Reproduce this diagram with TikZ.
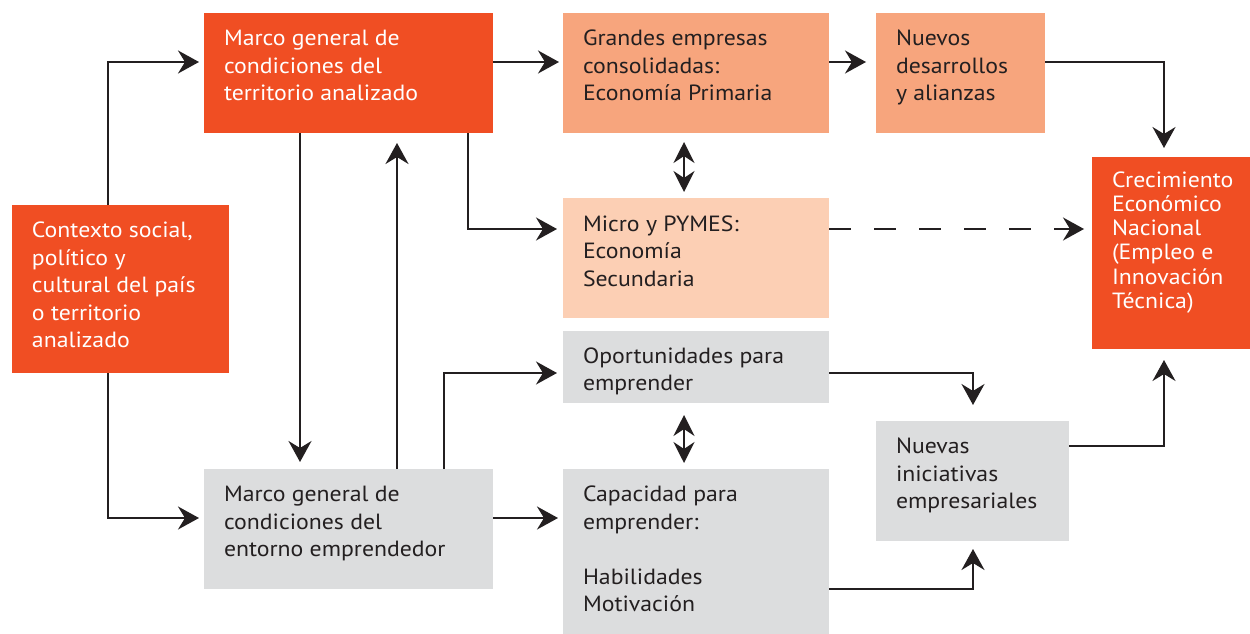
\documentclass[tikz,border=0pt]{standalone}
\usepackage{fontspec}
\setmainfont{PT Sans}[FakeStretch=1.08]
\usetikzlibrary{arrows.meta}
\definecolor{ored}{HTML}{F04E23}
\definecolor{salmon}{HTML}{F7A57D}
\definecolor{peach}{HTML}{FCCFB4}
\definecolor{lgrey}{HTML}{DCDDDE}
\definecolor{ink}{HTML}{231F20}
\newcommand\bt[4]{\hspace*{20pt}\parbox[t][#2pt][t]{\dimexpr#1pt-20pt\relax}{\raggedright\rule{0pt}{#3pt}#4}}
\begin{document}
\begin{tikzpicture}[x=1pt,y=-1pt,
  box/.style={anchor=north west, inner sep=0pt, outer sep=0pt, text=ink,
    font=\fontsize{22}{27.5}\selectfont},
  arr/.style={draw=ink, line width=2.2pt,
    -{Stealth[length=21pt, width=23pt, inset=7pt]}},
  darr/.style={draw=ink, line width=2.2pt,
    {Stealth[length=21pt, width=21pt, inset=7pt]}-{Stealth[length=21pt, width=21pt, inset=7pt]}}
]
\useasboundingbox[fill=white] (0,0) rectangle (1250,634);

\node[box, fill=ored, text=white] (ctx) at (12,205)
  {\bt{217}{168}{32.7}{Contexto social,\\político y\\cultural del país\\o territorio\\analizado}};
\node[box, fill=ored, text=white] (mt) at (204,13)
  {\bt{289}{120}{32.7}{Marco general de\\condiciones del\\territorio analizado}};
\node[box, fill=salmon] (ge) at (563,13)
  {\bt{266}{120}{32.7}{Grandes empresas\\consolidadas:\\Economía Primaria}};
\node[box, fill=salmon] (nd) at (876,13)
  {\bt{169}{120}{32.7}{Nuevos\\desarrollos\\y alianzas}};
\node[box, fill=ored, text=white, font=\fontsize{22}{24.3}\selectfont] (cr) at (1092,157)
  {\bt{158}{192}{30}{Crecimiento\\Económico\\Nacional\\(Empleo e\\Innovación\\Técnica)}};
\node[box, fill=peach] (mi) at (563,198)
  {\bt{266}{120}{33.2}{Micro y PYMES:\\Economía\\Secundaria}};
\node[box, fill=lgrey] (op) at (563,331)
  {\bt{266}{72}{32}{Oportunidades para\\emprender}};
\node[box, fill=lgrey] (cp) at (563,469)
  {\bt{266}{165}{32.7}{Capacidad para\\emprender:\\[27.5pt]Habilidades\\Motivación}};
\node[box, fill=lgrey] (ni) at (876,421)
  {\bt{193}{120}{32.7}{Nuevas\\iniciativas\\empresariales}};
\node[box, fill=lgrey] (me) at (204,469)
  {\bt{289}{120}{32.7}{Marco general de\\condiciones del\\entorno emprendedor}};

\draw[arr, shorten >=5pt] ([xshift=96pt]ctx.north west) |- ([yshift=11pt]mt.west);
\draw[arr, shorten >=5pt] ([xshift=96pt]ctx.south west) |- ([yshift=11pt]me.west);
\draw[arr, shorten >=7pt] ([xshift=96pt]mt.south west) -- ([xshift=96pt]me.north west);
\draw[arr, shorten >=10pt] ([xshift=193pt]me.north west) -- ([xshift=193pt]mt.south west);
\draw[arr, shorten >=4pt] ([yshift=11pt]mt.east) -- ([yshift=11pt]ge.west);
\draw[arr, shorten >=6pt] ([xshift=264pt]mt.south west) |- ([yshift=29pt]mi.west);
\draw[arr, shorten >=10pt] ([yshift=11pt]ge.east) -- ([yshift=11pt]nd.west);
\draw[arr, shorten >=9pt] ([yshift=11pt]nd.east) -| ([xshift=72pt]cr.north west);
\draw[darr, shorten <=9pt, shorten >=6pt] ([xshift=-12pt]ge.south) -- ([xshift=-12pt]mi.north);
\draw[arr, shorten >=8pt, dash pattern=on 22pt off 23pt] ([yshift=29pt]mi.east) -- ([yshift=29pt]mi.east -| cr.west);
\draw[arr, shorten >=6pt] ([xshift=240pt]me.north west) |- ([yshift=-6pt]op.west);
\draw[arr, shorten >=5pt] ([yshift=11pt]me.east) -- ([yshift=11pt]me.east -| cp.west);
\draw[darr, shorten <=12pt, shorten >=6pt] ([xshift=-12pt]op.south) -- ([xshift=-12pt]cp.north);
\draw[arr, shorten >=16pt] ([yshift=-6pt]op.east) -| ([xshift=97pt]ni.north west);
\draw[arr, shorten >=8pt] ([yshift=-37.5pt]cp.east) -| ([xshift=97pt]ni.south west);
\draw[arr, shorten >=11pt] ([yshift=35pt]ni.east) -| ([xshift=72pt]cr.south west);
\end{tikzpicture}
\end{document}
